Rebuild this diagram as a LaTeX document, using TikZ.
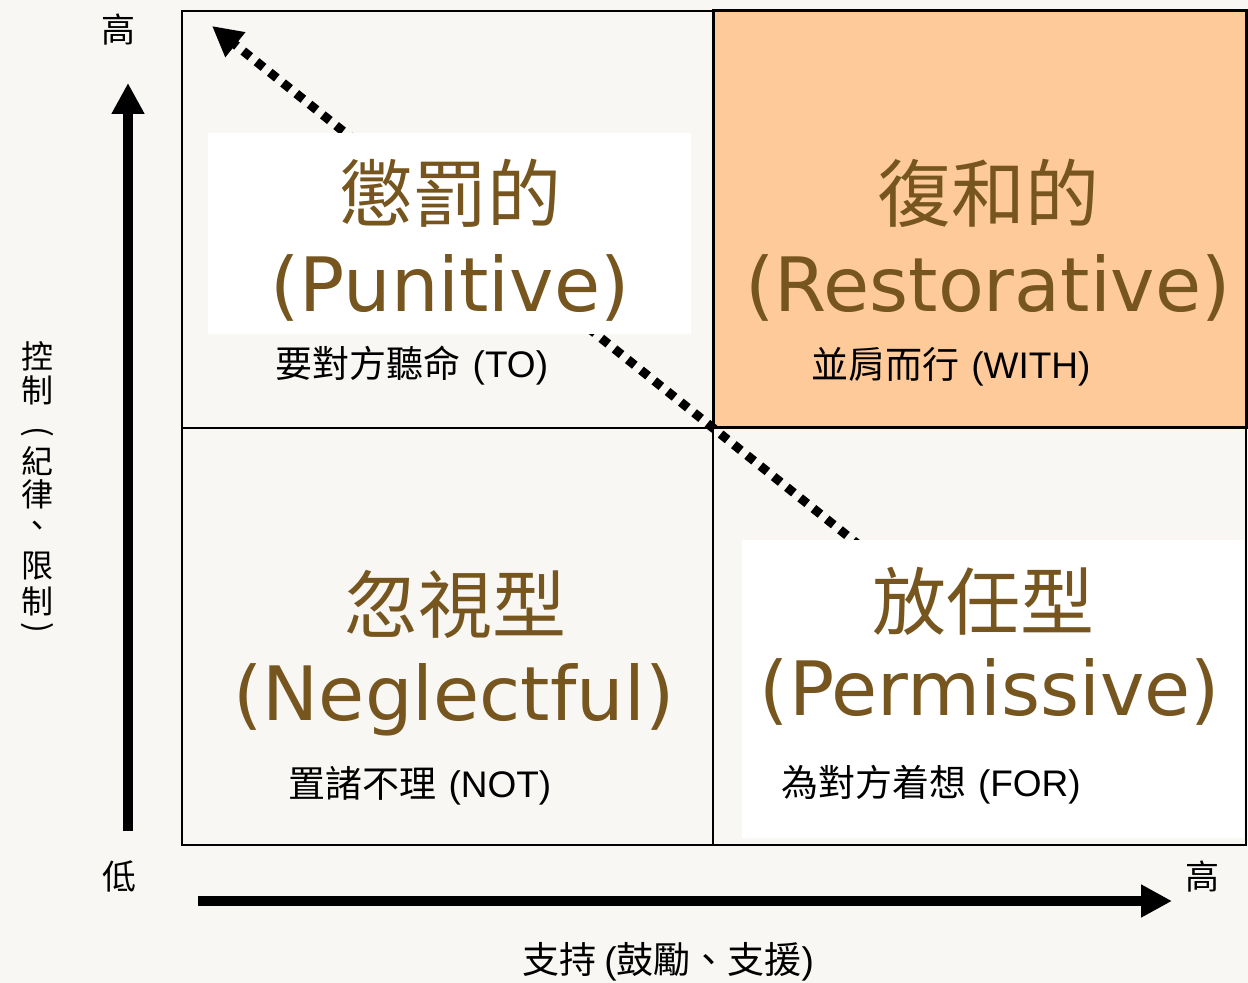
\documentclass[tikz,border=0pt]{standalone}
\usepackage{fontspec}
\setmainfont{DejaVu Sans}
\newfontfamily\cjk{Noto Sans CJK TC}
\newfontfamily\arial{Liberation Sans}
\newfontfamily\dvs{DejaVu Sans}
\usetikzlibrary{arrows.meta}
\definecolor{bg}{HTML}{F8F7F4}
\definecolor{orangeq}{HTML}{FFCA99}
\definecolor{titlebrown}{HTML}{76561E}
\begin{document}
\begin{tikzpicture}[x=0.5pt,y=-0.5pt,
  cjktitle/.style={font=\cjk\fontsize{37}{40}\selectfont, text=titlebrown, inner sep=0},
  entitle/.style={font=\dvs\fontsize{37.5}{40}\selectfont, text=titlebrown, inner sep=0, anchor=base},
  subtitle/.style={font=\fontsize{18.5}{20}\selectfont, inner sep=0, anchor=base},
  axislabel/.style={font=\cjk\fontsize{17}{18}\selectfont, inner sep=0},
  vchar/.style={font=\cjk\fontsize{16}{17}\selectfont, inner sep=0},
  gridline/.style={line width=0.8pt},
  axisarrow/.style={line width=5.25pt, -{Triangle[length=15.5pt,width=15.5pt]}},
  diagarrow/.style={line width=4.5pt, dash pattern=on 4.5pt off 4pt, -{Triangle[length=15pt,width=15pt]}},
]
\useasboundingbox (0,0) rectangle (1248,983);
\fill[bg] (0,0) rectangle (1248,983);
% orange quadrant
\fill[orangeq] (713,11) rectangle (1246,428);
% grid
\draw[gridline] (182,11) rectangle (1246,845);
\draw[gridline] (713,11) -- (713,845);
\draw[gridline] (182,428) -- (1246,428);
\draw[line width=1.5pt] (713,11) rectangle (1246,428);
% diagonal dotted arrow
\coordinate (dstart) at (900,578);
\coordinate (dtip) at (212,26);
\draw[diagarrow] (dstart) -- (dtip);
% white label boxes
\fill[white] (208,133) rectangle (691,334);
\fill[white] (742,540) rectangle (1244,838);
% quadrant texts
\node[cjktitle] (t1) at (450,193) {懲罰的};
\node[entitle] (e1) at (450,312) {(Punitive)};
\node[subtitle] (s1) at (412,378) {{\cjk 要對方聽命} {\arial (TO)}};
\node[cjktitle] (t2) at (988,193) {復和的};
\node[entitle] (e2) at (988,312) {(Restorative)};
\node[subtitle] (s2) at (951,379) {{\cjk 並肩而行} {\arial (WITH)}};
\node[cjktitle] (t3) at (455,604) {忽視型};
\node[entitle] (e3) at (454,720) {(Neglectful)};
\node[subtitle] (s3) at (420,798) {{\cjk 置諸不理} {\arial (NOT)}};
\node[cjktitle] (t4) at (983,601) {放任型};
\node[entitle] (e4) at (990,716) {(Permissive)};
\node[subtitle] (s4) at (931,797) {{\cjk 為對方着想} {\arial (FOR)}};
% axes
\coordinate (vs) at (128,831);
\coordinate (vt) at (128,83);
\draw[axisarrow] (vs) -- (vt);
\coordinate (hs) at (198,901);
\coordinate (ht) at (1172,901);
\draw[axisarrow] (hs) -- (ht);
\node[axislabel] (hi1) at (118,30) {高};
\node[axislabel] (lo) at (119,876) {低};
\node[axislabel] (hi2) at (1202,877) {高};
\node[axislabel, font=\cjk\fontsize{18.5}{20}\selectfont] (xlab) at (668,962) {支持 {\arial (}鼓勵、支援{\arial )}};
% vertical label
\node[vchar] (v1) at (37,356) {控};
\node[vchar] (v2) at (37,390) {制};
\node[vchar, rotate=-90] (v3) at (37,432) {(};
\node[vchar] (v4) at (37,461) {紀};
\node[vchar] (v5) at (37,494) {律};
\node[vchar] (v6) at (37,529) {、};
\node[vchar] (v7) at (37,566) {限};
\node[vchar] (v8) at (37,601) {制};
\node[vchar, rotate=-90] (v9) at (37,628) {)};
\end{tikzpicture}
\end{document}
